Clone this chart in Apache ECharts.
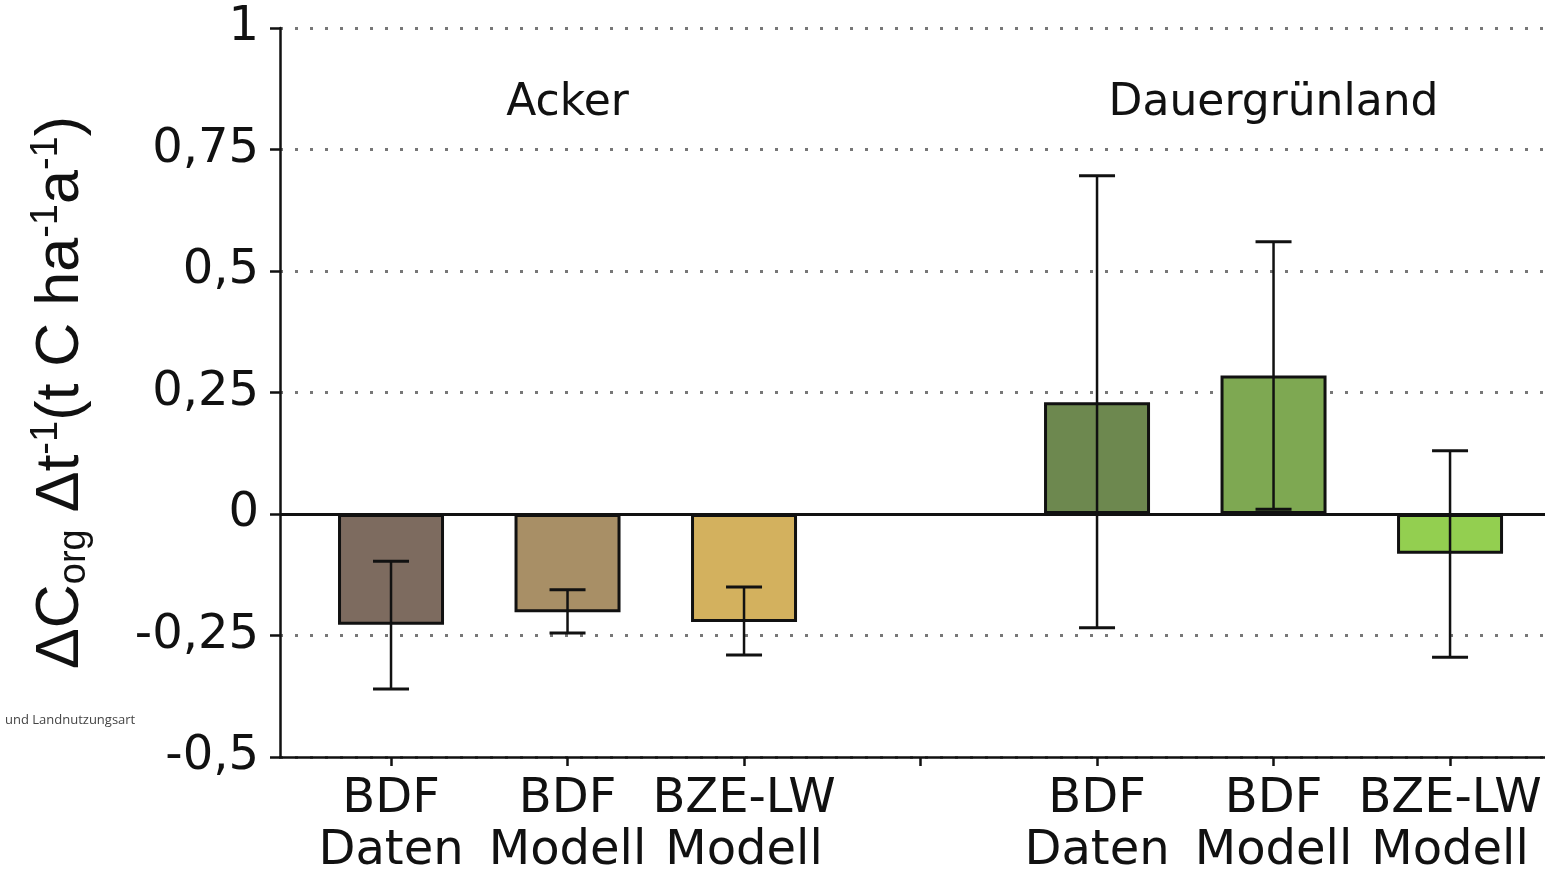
<!DOCTYPE html>
<html><head><meta charset="utf-8">
<script src="https://cdn.jsdelivr.net/npm/echarts@6/dist/echarts.min.js"></script>
<style>html,body{margin:0;padding:0;background:#fff}#c{width:1545px;height:874px}</style>
</head><body><div id="c"></div>
<script>
// ---- data ----
const categories = ['BDF\nDaten', 'BDF\nModell', 'BZE-LW\nModell', '', 'BDF\nDaten', 'BDF\nModell', 'BZE-LW\nModell'];
const tickPositions = [0, 1, 2, 3, 4, 5, 6];
const barPositions = [0, 1, 2, 4, 5, 6];
const barValues = [-0.228, -0.202, -0.222, 0.230, 0.285, -0.082];
const errLow = [-0.360, -0.245, -0.290, -0.234, 0.010, -0.295];
const errHigh = [-0.097, -0.156, -0.150, 0.696, 0.560, 0.130];
const barColors = ['#7d6b5f', '#a88f66', '#d3b15e', '#6d884f', '#7ea852', '#93cf50'];
const groupNames = ['Acker', 'Dauergrünland'];
const groupPositions = [1, 5];
const groupLabelY = [0.845, 0.845];
const yMin = -0.5, yMax = 1, yStep = 0.25;

const chart = echarts.init(document.getElementById('c'), null, {renderer: 'canvas'});
const ink = '#111';
const option = {
  animation: false,
  backgroundColor: '#fff',
  grid: {left: 280, right: 0, top: 28, bottom: 117, containLabel: false, outerBoundsMode: 'none'},
  xAxis: {
    type: 'value', min: -0.629, max: 6.538,
    axisLine: {show: true, onZero: false, lineStyle: {color: ink, width: 2.5}},
    axisTick: {show: true, customValues: tickPositions, length: 9, lineStyle: {color: ink, width: 2.5}},
    axisLabel: {
      customValues: barPositions,
      formatter: v => categories[Math.round(v)],
      fontSize: 48, fontFamily: 'DejaVu Sans', color: ink, lineHeight: 52, margin: 17
    },
    splitLine: {show: false}
  },
  yAxis: {
    type: 'value', min: yMin, max: yMax, interval: yStep,
    axisLine: {show: true, onZero: false, lineStyle: {color: ink, width: 2.5}},
    axisTick: {show: true, length: 10, lineStyle: {color: ink, width: 2.5}},
    axisLabel: {
      fontSize: 48, fontFamily: 'DejaVu Sans', color: ink, margin: 21,
      formatter: v => String(v).replace('.', ',')
    },
    splitLine: {show: true, lineStyle: {type: [3, 12], width: 3, color: '#777'}},
    name: 'ΔC{sub|org} Δt{sup|-1}(t C ha{sup|-1}a{sup|-1})',
    nameLocation: 'middle', nameRotate: 90, nameGap: 186,
    nameTextStyle: {
      fontSize: 61, fontFamily: 'Liberation Sans', color: ink, lineHeight: 66,
      rich: {
        sub: {fontSize: 38, fontFamily: 'Liberation Sans', color: ink, lineHeight: 38, verticalAlign: 'bottom'},
        sup: {fontSize: 38, fontFamily: 'Liberation Sans', color: ink, lineHeight: 38, verticalAlign: 'top'}
      }
    }
  },
  series: [
    {
      type: 'bar', barWidth: 106,
      data: barPositions.map((x, i) => ({value: [x, barValues[i]], itemStyle: {color: barColors[i]}})),
      itemStyle: {borderColor: ink, borderWidth: 3},
      markLine: {
        silent: true, symbol: 'none', label: {show: false},
        lineStyle: {color: ink, width: 3, type: 'solid'},
        data: [{yAxis: 0}]
      },
      z: 2
    },
    {
      type: 'custom',
      data: barPositions.map((x, i) => [x, errLow[i], errHigh[i]]),
      encode: {x: 0, y: [1, 2]},
      renderItem: (params, api) => {
        const x = api.value(0);
        const lo = api.coord([x, api.value(1)]);
        const hi = api.coord([x, api.value(2)]);
        const h = 18;
        const style = {stroke: ink, lineWidth: 2.5};
        const capStyle = {stroke: ink, lineWidth: 3};
        return {type: 'group', children: [
          {type: 'line', shape: {x1: lo[0], y1: lo[1], x2: hi[0], y2: hi[1]}, style},
          {type: 'line', shape: {x1: lo[0] - h, y1: lo[1], x2: lo[0] + h, y2: lo[1]}, style: capStyle},
          {type: 'line', shape: {x1: hi[0] - h, y1: hi[1], x2: hi[0] + h, y2: hi[1]}, style: capStyle}
        ]};
      },
      z: 5
    },
    {
      type: 'custom',
      data: groupPositions.map((x, i) => [x, groupLabelY[i]]),
      encode: {x: 0, y: 1},
      renderItem: (params, api) => {
        const p = api.coord([api.value(0), api.value(1)]);
        return {type: 'text', x: p[0], y: p[1], style: {
          text: groupNames[params.dataIndex], fontSize: 44, fontFamily: 'DejaVu Sans',
          fill: ink, align: 'center', verticalAlign: 'middle'
        }};
      },
      z: 6
    }
  ],
  graphic: [
    {type: 'text', left: 5, top: 714, style: {text: 'und Landnutzungsart', fontSize: 13, fontFamily: 'Open Sans', fill: '#444'}}
  ]
};
chart.setOption(option);
</script>
</body></html>
